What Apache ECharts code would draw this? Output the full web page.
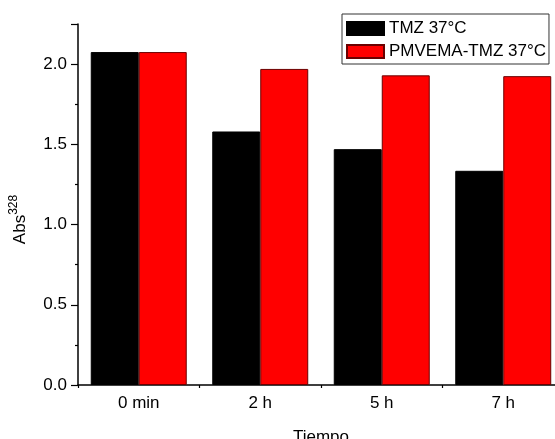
<!DOCTYPE html>
<html><head><meta charset="utf-8">
<script src="https://cdn.jsdelivr.net/npm/echarts@6/dist/echarts.min.js"></script>
<style>html,body{margin:0;padding:0;background:#fff}#c{width:555px;height:439px}</style>
</head><body><div id="c"></div>
<script>
const categories = ['0 min', '2 h', '5 h', '7 h'];
const tmz = [2.075, 1.58, 1.47, 1.335];
const pmvema = [2.075, 1.97, 1.93, 1.925];
const seriesNames = ['TMZ 37°C', 'PMVEMA-TMZ 37°C'];
const font = 'Liberation Sans, Arial, sans-serif';
const chart = echarts.init(document.getElementById('c'));
chart.setOption({
  animation: false,
  textStyle: { fontFamily: font },
  grid: { left: 78, width: 486, top: 24, height: 361, outerBoundsMode: 'none', containLabel: false },
  legend: {
    orient: 'vertical', left: 342, top: 14,
    icon: 'rect',
    itemWidth: 37, itemHeight: 13, itemGap: 6,
    padding: [6, 3, 4, 4],
    borderColor: '#333', borderWidth: 1, backgroundColor: '#fff',
    textStyle: { fontSize: 17, color: '#000', fontFamily: font },
    data: seriesNames
  },
  xAxis: [{
    type: 'category', data: categories, position: 'bottom',
    axisLine: { lineStyle: { color: '#000', width: 1.5 } },
    axisTick: { alignWithLabel: true, length: 7, lineStyle: { color: '#000', width: 1.2 } },
    axisLabel: { fontSize: 17, color: '#000', margin: 10, fontFamily: font },
    name: 'Tiempo', nameLocation: 'middle', nameGap: 44,
    nameTextStyle: { fontSize: 17, color: '#000', fontFamily: font }
  }, {
    type: 'category', data: categories, position: 'bottom',
    axisLine: { show: false },
    axisTick: { show: true, length: 3, lineStyle: { color: '#000', width: 1.2 } },
    axisLabel: { show: false }
  }],
  yAxis: {
    type: 'value', min: 0, max: 2.25, interval: 0.5,
    splitLine: { show: false },
    axisLine: { show: true, lineStyle: { color: '#000', width: 1.5 } },
    axisTick: { show: true, length: 7, lineStyle: { color: '#000', width: 1.2 } },
    minorTick: { show: true, splitNumber: 2, length: 3, lineStyle: { color: '#000', width: 1.2 } },
    axisLabel: { fontSize: 17, color: '#000', margin: 11, showMaxLabel: false, fontFamily: font,
      formatter: v => v.toFixed(1) },
    name: '{a|Abs}{s|328}', nameLocation: 'middle', nameGap: 46,
    nameTextStyle: {
      padding: [0, 30, 0, 0],
      rich: {
        a: { fontSize: 17, color: '#000', fontFamily: font },
        s: { fontSize: 12, color: '#000', fontFamily: font, verticalAlign: 'bottom', padding: [0, 0, 12, 0] }
      }
    }
  },
  series: [{
    name: seriesNames[0], type: 'bar', data: tmz, barGap: '0%', barCategoryGap: '21%',
    itemStyle: { color: '#000', borderColor: '#000', borderWidth: 1 }
  }, {
    name: seriesNames[1], type: 'bar', data: pmvema,
    itemStyle: { color: '#ff0000', borderColor: '#6b0000', borderWidth: 1 }
  }]
});
</script></body></html>
